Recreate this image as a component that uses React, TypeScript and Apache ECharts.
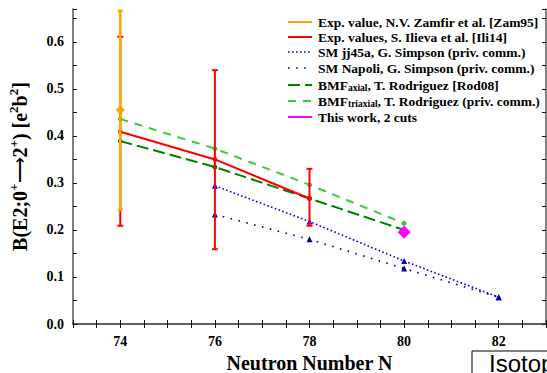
import React, { useEffect, useRef } from "react";
import * as echarts from "echarts";

// ---- data ----
const zamfirN = [74];
const zamfirB = [0.455];
const zamfirLow = [0.243];
const zamfirHigh = [0.666];

const ilievaN = [74, 76, 78];
const ilievaB = [0.409, 0.35, 0.267];
const ilievaLow = [0.209, 0.159, 0.209];
const ilievaHigh = [0.611, 0.54, 0.33];

const jj45aN = [76, 78, 80, 82];
const jj45aB = [0.294, 0.218, 0.134, 0.057];

const napoliN = [76, 78, 80, 82];
const napoliB = [0.233, 0.18, 0.118, 0.057];

const bmfAxialN = [74, 76, 78, 80];
const bmfAxialB = [0.389, 0.334, 0.267, 0.2];

const bmfTriaxialN = [74, 76, 78, 80];
const bmfTriaxialB = [0.436, 0.373, 0.296, 0.214];

const thisWorkN = [80];
const thisWorkB = [0.195];

const xTickLabels = [74, 76, 78, 80, 82];
const yTickLabels = [0.0, 0.1, 0.2, 0.3, 0.4, 0.5, 0.6];

const legendLabels = [
  "{n|Exp. value, N.V. Zamfir et al. [Zam95]}",
  "{n|Exp. values, S. Ilieva et al. [Ili14]}",
  "{n|SM jj45a, G. Simpson (priv. comm.)}",
  "{n|SM Napoli, G. Simpson (priv. comm.)}",
  "{n|BMF}{s|axial}{n|, T. Rodriguez [Rod08]}",
  "{n|BMF}{s|triaxial}{n|, T. Rodriguez (priv. comm.)}",
  "{n|This work, 2 cuts}",
];
const yAxisTitle = "{n|B(E2;0}{s|+}{a|\u27F6}{n|2}{s|+}{n|) [e}{s|2}{n|b}{s|2}{n|]}";
const xAxisTitle = "Neutron Number N";
const cornerLabel = "Isotop";

const SERIF = "'Liberation Serif', 'Times New Roman', serif";

const zip = (a: number[], b: number[]) => a.map((v, i) => [v, b[i]]);
const zip3 = (a: number[], b: number[], c: number[]) => a.map((v, i) => [v, b[i], c[i]]);

function errorBars(name: string, data: number[][], color: string, lw: number, cap: number, z: number) {
  return {
    name,
    type: "custom",
    z,
    data,
    encode: { x: 0, y: [1, 2] },
    renderItem: (_p: any, api: any) => {
      const x = api.value(0);
      const lo = api.coord([x, api.value(1)]);
      const hi = api.coord([x, api.value(2)]);
      const style = { stroke: color, lineWidth: lw };
      return {
        type: "group",
        children: [
          { type: "line", shape: { x1: lo[0], y1: lo[1], x2: hi[0], y2: hi[1] }, style },
          { type: "line", shape: { x1: lo[0] - cap, y1: lo[1], x2: lo[0] + cap, y2: lo[1] }, style },
          { type: "line", shape: { x1: hi[0] - cap, y1: hi[1], x2: hi[0] + cap, y2: hi[1] }, style },
        ],
      };
    },
  };
}

export default function App() {
  const ref = useRef<HTMLDivElement>(null);
  useEffect(() => {
    if (!ref.current) return;
    const chart = echarts.init(ref.current, null, { renderer: "svg" });

    const axisCommon = {
      type: "value",
      splitLine: { show: false },
      axisLine: { show: true, lineStyle: { color: "#555", width: 1.5 } },
      axisTick: { show: true, inside: true, length: 4, lineStyle: { color: "#111", width: 1 } },
    };

    const legendStyles = [
      { stroke: "#FFA500", lineWidth: 2, lineDash: null },
      { stroke: "#FF0000", lineWidth: 2, lineDash: null },
      { stroke: "#0000FF", lineWidth: 1.6, lineDash: [1.6, 2.4] },
      { stroke: "#00008B", lineWidth: 1.6, lineDash: [1.6, 6.5] },
      { stroke: "#008000", lineWidth: 2, lineDash: [12, 5] },
      { stroke: "#3CC83C", lineWidth: 2, lineDash: [8, 7] },
      { stroke: "#FF00FF", lineWidth: 2, lineDash: null },
    ];
    const rowY = [22, 37, 52, 68, 85, 101, 117];

    const legendGraphics: any[] = [];
    legendLabels.forEach((lab, i) => {
      const st: any = { ...legendStyles[i] };
      if (!st.lineDash) delete st.lineDash;
      legendGraphics.push({
        type: "line",
        shape: { x1: 288, y1: rowY[i], x2: 312, y2: rowY[i] },
        style: st,
        z: 100,
      });
      legendGraphics.push({
        type: "text",
        x: 318,
        y: rowY[i],
        z: 100,
        style: {
          text: lab,
          verticalAlign: "middle",
          align: "left",
          rich: {
            n: { fontFamily: SERIF, fontWeight: "bold", fontSize: 13.5, fill: "#000", lineHeight: 16, verticalAlign: "middle" },
            s: { fontFamily: SERIF, fontWeight: "bold", fontSize: 9.5, fill: "#000", lineHeight: 7, verticalAlign: "bottom" },
          },
        },
      });
    });

    const option: any = {
      animation: false,
      backgroundColor: "#fff",
      grid: { left: 73, right: 1, top: 9, bottom: 49, containLabel: false, outerBoundsMode: "none" },
      xAxis: [
        {
          ...axisCommon,
          position: "bottom",
          min: 73,
          max: 83,
          interval: 0.5,
          axisLabel: {
            margin: 10,
            fontFamily: SERIF,
            fontWeight: "bold",
            fontSize: 14,
            color: "#000",
            formatter: (v: number) => (xTickLabels.includes(v) ? String(v) : ""),
          },
          name: xAxisTitle,
          nameLocation: "middle",
          nameGap: 28,
          nameTextStyle: { fontFamily: SERIF, fontWeight: "bold", fontSize: 20, color: "#000" },
        },
        {
          ...axisCommon,
          position: "top",
          min: 73,
          max: 83,
          interval: 0.5,
          axisLabel: { show: false },
        },
      ],
      yAxis: [
        {
          ...axisCommon,
          position: "left",
          min: 0,
          max: 0.67,
          interval: 0.05,
          axisLabel: {
            margin: 9,
            fontFamily: SERIF,
            fontWeight: "bold",
            fontSize: 14,
            color: "#000",
            formatter: (v: number) => {
              const hit = yTickLabels.find((t) => Math.abs(t - v) < 1e-6);
              return hit === undefined ? "" : hit.toFixed(1);
            },
          },
          name: yAxisTitle,
          nameLocation: "middle",
          nameRotate: 90,
          nameGap: 40,
          nameTextStyle: {
            rich: {
              n: { fontFamily: SERIF, fontWeight: "bold", fontSize: 20, color: "#000", lineHeight: 26, verticalAlign: "middle" },
              a: { fontFamily: SERIF, fontWeight: "normal", fontSize: 18, color: "#000", lineHeight: 26, verticalAlign: "middle" },
              s: { fontFamily: SERIF, fontWeight: "bold", fontSize: 13, color: "#000", lineHeight: 10, verticalAlign: "top" },
            },
          },
        },
        {
          ...axisCommon,
          position: "right",
          min: 0,
          max: 0.67,
          interval: 0.05,
          axisLabel: { show: false },
        },
      ],
      series: [
        {
          name: "BMF triaxial",
          type: "line",
          z: 2,
          data: zip(bmfTriaxialN, bmfTriaxialB),
          lineStyle: { color: "#3CC83C", width: 2, type: [8, 7] },
          itemStyle: { color: "#3CC83C" },
          symbol: "circle",
          symbolSize: 5,
        },
        {
          name: "BMF axial",
          type: "line",
          z: 2,
          data: zip(bmfAxialN, bmfAxialB),
          lineStyle: { color: "#008000", width: 2, type: [12, 5] },
          itemStyle: { color: "#008000" },
          symbol: "circle",
          symbolSize: 5,
        },
        {
          name: "SM jj45a",
          type: "line",
          z: 2,
          data: zip(jj45aN, jj45aB),
          lineStyle: { color: "#0000FF", width: 1.6, type: [1.6, 2.4] },
          itemStyle: { color: "#0000FF" },
          symbol: "triangle",
          symbolSize: 6,
        },
        {
          name: "SM Napoli",
          type: "line",
          z: 2,
          data: zip(napoliN, napoliB),
          lineStyle: { color: "#00008B", width: 1.6, type: [1.6, 6.5] },
          itemStyle: { color: "#00008B" },
          symbol: "triangle",
          symbolSize: 6,
        },
        {
          name: "Ilieva",
          type: "line",
          z: 3,
          data: zip(ilievaN, ilievaB),
          lineStyle: { color: "#FF0000", width: 2 },
          itemStyle: { color: "#FF0000" },
          symbol: "rect",
          symbolSize: 4,
        },
        errorBars("Ilieva err", zip3(ilievaN, ilievaLow, ilievaHigh), "#FF0000", 2, 3, 3),
        errorBars("Zamfir err", zip3(zamfirN, zamfirLow, zamfirHigh), "#FFA500", 2.6, 2.5, 4),
        {
          name: "Zamfir",
          type: "line",
          z: 5,
          data: zip(zamfirN, zamfirB),
          itemStyle: { color: "#FFA500" },
          lineStyle: { color: "#FFA500" },
          symbol: "diamond",
          symbolSize: [9, 10],
        },
        {
          name: "This work",
          type: "line",
          z: 6,
          data: zip(thisWorkN, thisWorkB),
          itemStyle: { color: "#FF00FF" },
          symbol: "diamond",
          symbolSize: 13,
        },
      ],
      graphic: [
        ...legendGraphics,
        {
          type: "rect",
          shape: { x: 472, y: 351, width: 200, height: 60 },
          style: { fill: "#fff", stroke: "#000", lineWidth: 1 },
          z: 100,
        },
        {
          type: "text",
          x: 489,
          y: 351,
          z: 101,
          style: {
            text: cornerLabel,
            fontFamily: "'Liberation Sans', Arial, sans-serif",
            fontSize: 24,
            fill: "#000",
            verticalAlign: "top",
            align: "left",
          },
        },
      ],
    };
    chart.setOption(option);
    return () => chart.dispose();
  }, []);
  return (
    <div
      ref={ref}
      style={{ position: "fixed", left: 0, top: 0, width: 547, height: 373 }}
    />
  );
}
